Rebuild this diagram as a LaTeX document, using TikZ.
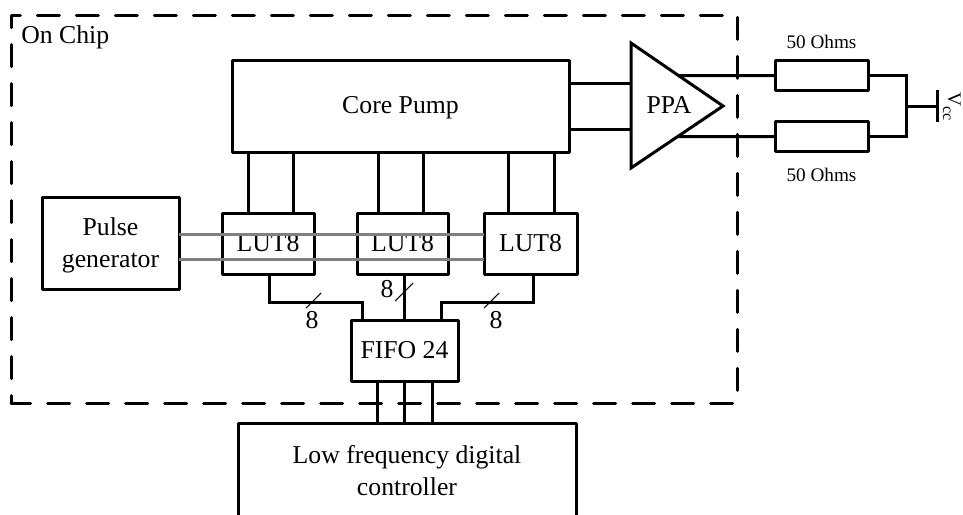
\documentclass[tikz,border=0pt]{standalone}
\usepackage{fontspec}
\setmainfont{Liberation Serif}
\usetikzlibrary{calc,positioning}
\def\px{0.75pt}
\tikzset{
  blockbox/.style={draw=black,line width=2.25pt,line join=round,outer sep=0pt,inner sep=0pt,align=center,
    font=\fontsize{19.3}{24}\selectfont},
  resbox/.style={draw=black,line width=2.25pt,line join=round,outer sep=0pt,inner sep=0pt,
    minimum width=93*\px,minimum height=30.5*\px},
  chipline/.style={draw=black,line width=2.25pt,line cap=round,line join=round,
    dash pattern=on 16.5pt off 12.75pt,dash phase=10.9pt},
  wire/.style={line width=2.25pt,line join=miter},
  greywire/.style={line width=2.25pt,draw=black!50},
  slashmark/.style={line width=0.8pt},
  blocklabel/.style={font=\fontsize{19.3}{24}\selectfont,inner sep=0pt,align=center},
  reslabel/.style={font=\fontsize{14.4}{17}\selectfont,inner sep=0pt}
}
\begin{document}
\begin{tikzpicture}[x=\px,y=-\px]
  \clip (0,0) rectangle (963,514);
  % outer boundary
  \node[minimum width=726*\px,minimum height=388*\px,outer sep=0pt] (chip) at (374,209) {};
  \draw[chipline] (chip.south west) -- (chip.north west) -- (chip.north east) -- (chip.south east) -- cycle;
  \node[blocklabel,anchor=base west] (chiplabel) at (21,43) {On Chip};
  % blocks
  \node[blockbox,minimum width=337*\px,minimum height=92*\px] (core) at (400.5,106) {};
  \node[blocklabel] (coretext) at (400.5,108) {Core Pump};
  \node[blockbox,minimum width=137*\px,minimum height=92*\px] (pulse) at (110.5,243) {};
  \node[blocklabel] (pulsetext) at (110.5,245.5) {Pulse\\generator};
  \node[blockbox,minimum width=92*\px,minimum height=61*\px] (lutA) at (268,243.5) {LUT8};
  \node[blockbox,minimum width=91*\px,minimum height=61*\px] (lutB) at (402.5,243.5) {LUT8};
  \node[blockbox,minimum width=93*\px,minimum height=61*\px] (lutC) at (530.5,243.5) {LUT8};
  \node[blockbox,minimum width=107*\px,minimum height=61*\px] (fifo) at (404.5,350.5) {FIFO 24};
  \node[blockbox,minimum width=338*\px,minimum height=96*\px] (ctrl) at (407,471) {Low frequency digital\\controller};
  % amplifier
  \coordinate (ppaTop) at (631,43);
  \coordinate (ppaTip) at (723,106);
  \coordinate (ppaLow) at (631,168);
  \draw[wire] (ppaTop) -- (ppaTip) -- (ppaLow) -- cycle;
  \node[blocklabel] (ppa) at (669,105.5) {PPA};
  % resistors and supply
  \node[resbox] (resA) at (821.5,75.5) {};
  \node[resbox] (resB) at (821.5,136.5) {};
  \node[reslabel,above=11*\px of resA] (resAlabel) {50 Ohms};
  \node[reslabel,below=16*\px of resB] (resBlabel) {50 Ohms};
  \coordinate (busTop) at (906,75.5);
  \coordinate (busLow) at (906,136.5);
  \coordinate (busMid) at (906,106);
  \coordinate (vccMid) at (937,106);
  \coordinate (vccTop) at (937,90);
  \coordinate (vccLow) at (937,122);
  \coordinate (ppaOutA) at ($(ppaTop)!0.516!(ppaTip)$);
  \coordinate (ppaOutB) at ($(ppaTip)!0.492!(ppaLow)$);
  \coordinate (ppaInA) at (631,83);
  \coordinate (ppaInB) at (631,129);
  \draw[wire] (core.east |- ppaInA) -- (ppaInA);
  \draw[wire] (core.east |- ppaInB) -- (ppaInB);
  \draw[wire] (ppaOutA) -- (resA.west);
  \draw[wire] (ppaOutB) -- (resB.west);
  \draw[wire] (resA.east) -- (busTop) -- (busLow) -- (resB.east);
  \draw[wire] (busMid) -- (vccMid);
  \draw[wire] (vccTop) -- (vccLow);
  \node[rotate=-90,anchor=base west,inner sep=0pt,font=\fontsize{14.4}{17}\selectfont] (vcc) at (948,92)
    {V\raisebox{-3.75pt}{\fontsize{12}{12}\selectfont cc}};
  % core pump to luts
  \foreach \lut/\dxa/\dxb in {lutA/26/71,lutB/21/66,lutC/24/70}{
    \path (\lut.north west) ++(\dxa,0) coordinate (\lut a);
    \path (\lut.north west) ++(\dxb,0) coordinate (\lut b);
    \draw[wire] (\lut a) -- (\lut a |- core.south);
    \draw[wire] (\lut b) -- (\lut b |- core.south);
  }
  % luts to fifo
  \coordinate (fifoA) at (362,320);
  \coordinate (fifoC) at (441,320);
  \coordinate (busLine) at (0,302);
  \path (lutA.south) ++(1,0) coordinate (lutAs);
  \path (lutB.south) ++(1.5,0) coordinate (lutBs);
  \path (lutC.south) ++(2.5,0) coordinate (lutCs);
  \draw[wire] (lutAs) -- (lutAs |- busLine) -| (fifoA);
  \draw[wire] (lutCs) -- (lutCs |- busLine) -| (fifoC);
  \draw[wire] (lutBs) -- (lutBs |- fifo.north);
  \draw[slashmark] (306,308) -- (321,293);
  \draw[slashmark] (395,301) -- (413,283);
  \draw[slashmark] (484,308) -- (499,293);
  \node[blocklabel] (busAlabel) at (312,320) {8};
  \node[blocklabel] (busBlabel) at (387,289) {8};
  \node[blocklabel] (busClabel) at (496,320) {8};
  % fifo to controller
  \foreach \dx/\n in {26/a,53/b,81/c}{
    \path (fifo.south west) ++(\dx,0) coordinate (fifo\n);
    \draw[wire] (fifo\n) -- (fifo\n |- ctrl.north);
  }
  % clock lines across the luts
  \coordinate (clkA) at (0,234);
  \coordinate (clkB) at (0,259);
  \draw[greywire] (pulse.east |- clkA) -- (lutC.west |- clkA);
  \draw[greywire] (pulse.east |- clkB) -- (lutC.west |- clkB);
\end{tikzpicture}
\end{document}
